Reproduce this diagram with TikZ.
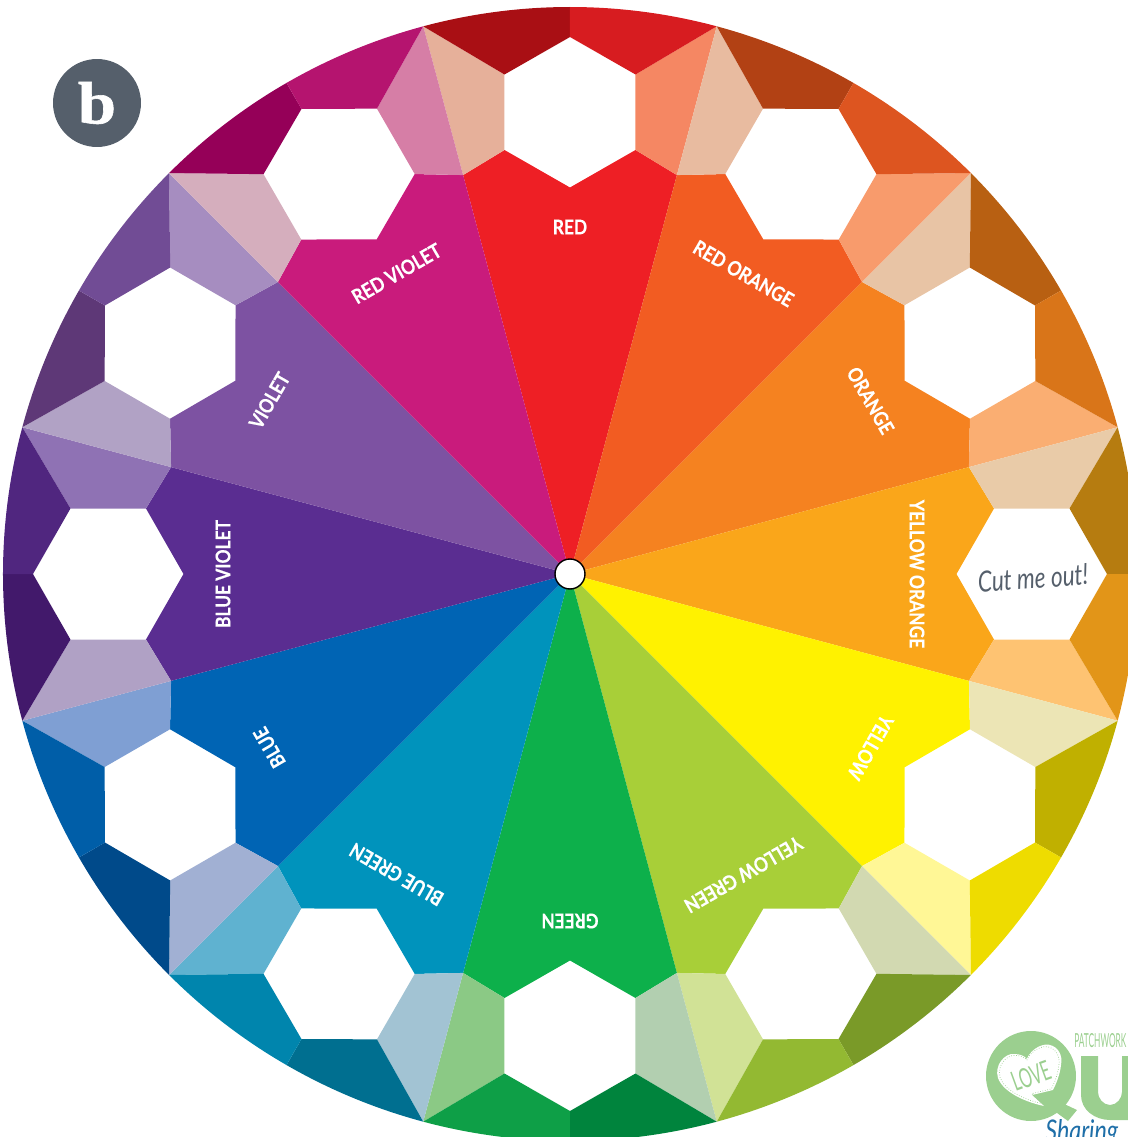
\documentclass[tikz,border=0pt]{standalone}
\usepackage{fontspec}
\setmainfont{Lato}
\newfontfamily\badgefont[FakeStretch = 1.15, BoldFeatures = {FakeBold = 1}]{Liberation Serif}
\newfontfamily\labelfont[FakeStretch = 0.86, BoldFeatures = {FakeBold = 0.3}]{Lato}
\newfontfamily\notefont[FakeStretch = 0.78]{Lato}
\newfontfamily\logofont[FakeStretch = 0.43]{Lato}
\newfontfamily\loveFont[FakeStretch = 0.58]{Lato}
\usetikzlibrary{positioning}
\definecolor{logo green}{HTML}{9BCF8F}
\definecolor{logo blue}{HTML}{1F6FA8}
\definecolor{badge gray}{HTML}{555F6B}
\tikzset{
color label/.style = { white, font = \fontsize{11.5}{12}\selectfont\labelfont\bfseries, transform shape, inner sep = 0pt },
hub/.style = { circle, draw = black, fill = white, line width = 0.8pt, minimum size = 0.6cm, inner sep = 0pt },
pics/sector/.style args={#1, #2, #3, #4, #5, #6}{
        code = {
        \definecolor{sector main}{HTML}{#2}
        \definecolor{tint left}{HTML}{#3}
        \definecolor{tint right}{HTML}{#4}
        \definecolor{dark left}{HTML}{#5}
        \definecolor{dark right}{HTML}{#6}
        % wedge up to the lower side of the hexagon
        \path[fill = sector main] (0, 0) -- (105:413) -- (-65.5, 424) -- (0, 386.5) -- (65.5, 424) -- (75:413) -- cycle;
        \path[fill = tint left] (105:413) -- (105:567) -- (-65.5, 499.5) -- (-65.5, 424) -- cycle;
        \path[fill = tint right] (75:413) -- (75:567) -- (65.5, 499.5) -- (65.5, 424) -- cycle;
        \path[fill = dark left] (105:567) arc[start angle = 105, end angle = 90, radius = 567] -- (0, 537) -- (-65.5, 499.5) -- cycle;
        \path[fill = dark right] (75:567) arc[start angle = 75, end angle = 90, radius = 567] -- (0, 537) -- (65.5, 499.5) -- cycle;
        \node[color label] (-label) at (0, 347) {#1};
        }
    }
}
\newcommand{\heartpath}{(1026.7, 1059) .. controls (1032, 1047) and (1045, 1043) .. (1050, 1045) .. controls (1058, 1047) and (1063, 1055) .. (1061, 1065) .. controls (1060, 1075) and (1056, 1084) .. (1053, 1090) -- (1032, 1095) -- (1044, 1106) .. controls (1025, 1102) and (1003, 1092) .. (998, 1078) .. controls (994, 1065) and (1005, 1053) .. (1014, 1054) .. controls (1020, 1054) and (1025, 1056) .. cycle}
\begin{document}
\begin{tikzpicture}[x = 0.02cm, y = 0.02cm]
    \useasboundingbox (-570, -563) rectangle (558, 574);
    \clip (-570, -563) rectangle (558, 574);
    \draw (0, 0) pic[rotate = 0](red){sector = {RED, EE1F25, E6B09A, F58763, A90F14, D71C20}};
    \draw (0, 0) pic[rotate = -30](redorange){sector = {RED ORANGE, F25C22, E8BBA0, F89B6C, B24114, DD5520}};
    \draw (0, 0) pic[rotate = -60](orange){sector = {ORANGE, F58220, E8C4A5, FAAE72, B86012, D97519}};
    \draw (0, 0) pic[rotate = -90](yelloworange){sector = {YELLOW ORANGE, FAA61A, E9CBA8, FEC372, B67C10, E29518}};
    \draw (0, 0) pic[rotate = -120](yellow){sector = {YELLOW, FFF200, ECE5B5, FFF796, C0B000, EEDC00}};
    \draw (0, 0) pic[rotate = -150](yellowgreen){sector = {YELLOW GREEN, A8CF38, D2D9B1, D1E296, 7A9A28, 93B932}};
    \draw (0, 0) pic[rotate = 180](green){sector = {GREEN, 0DB04B, B2CFB0, 8BC985, 00843D, 0E9F47}};
    \draw (0, 0) pic[rotate = 150](bluegreen){sector = {BLUE GREEN, 0093BC, A2C3D3, 5FB2D0, 006F90, 0085AD}};
    \draw (0, 0) pic[rotate = 120](blue){sector = {BLUE, 0064B4, A1B0D3, 7F9FD3, 004A8A, 005EA8}};
    \draw (0, 0) pic[rotate = 90](blueviolet){sector = {BLUE VIOLET, 5A2D91, B0A1C5, 8F72B4, 42196B, 50267F}};
    \draw (0, 0) pic[rotate = 60](violet){sector = {VIOLET, 7D52A2, B1A2C5, A68DC0, 5E3877, 714C95}};
    \draw (0, 0) pic[rotate = 30](redviolet){sector = {RED VIOLET, C91B7C, D5AEBD, D67EA6, 950058, B5146F}};
    \node[hub] (center) at (0, 0) {};
    \node[circle, fill = badge gray, minimum size = 1.76cm, inner sep = 0pt, text = white, font = \fontsize{34}{34}\selectfont\badgefont\bfseries] (badge) at (-473, 471) {b};
    \node[rotate = 4, text = badge gray, font = \fontsize{16.5}{17}\selectfont\notefont\itshape, inner sep = 0pt] (cutout) at (463, -4) {Cut me out!};
    % logo in the lower right corner, in the pixels of the sheet
    \begin{scope}[shift = {(-570, 574)}, y = -0.02cm]
        \path[fill = logo green] (1060, 1102) -- (1077, 1110) -- (1068, 1121) -- (1053, 1110) -- cycle;
        \path[fill = logo green] (1031, 1076) circle[radius = 45];
        \path[fill = white] \heartpath;
        \begin{scope}[shift = {(1029, 1075)}, scale = 0.93, shift = {(-1029, -1075)}]
            \draw[logo green, densely dotted, line width = 0.4pt] \heartpath;
        \end{scope}
        \path[fill = logo green] (1081, 1056) -- (1098, 1056) -- (1098, 1092) .. controls (1098, 1098) and (1103, 1105) .. (1110, 1105) .. controls (1117, 1105) and (1122, 1098) .. (1122, 1092) -- (1122, 1056) -- (1128, 1056) -- (1128, 1120) -- (1110, 1120) .. controls (1095, 1120) and (1081, 1110) .. (1081, 1095) -- cycle;
        \node[rotate = 20, text = logo green, font = \fontsize{15.5}{16}\selectfont\loveFont, inner sep = 0pt] (love) at (1031, 1076) {LOVE};
        \node[anchor = west, text = logo green, font = \fontsize{11}{12}\selectfont\logofont, inner sep = 0pt] (patchwork) at (1074, 1041) {PATCHWORK};
        \node[anchor = base west, text = logo blue, font = \fontsize{17}{18}\selectfont\notefont\itshape, inner sep = 0pt] (sharing) at (1045, 1141) {Sharing};
    \end{scope}
\end{tikzpicture}
\end{document}
